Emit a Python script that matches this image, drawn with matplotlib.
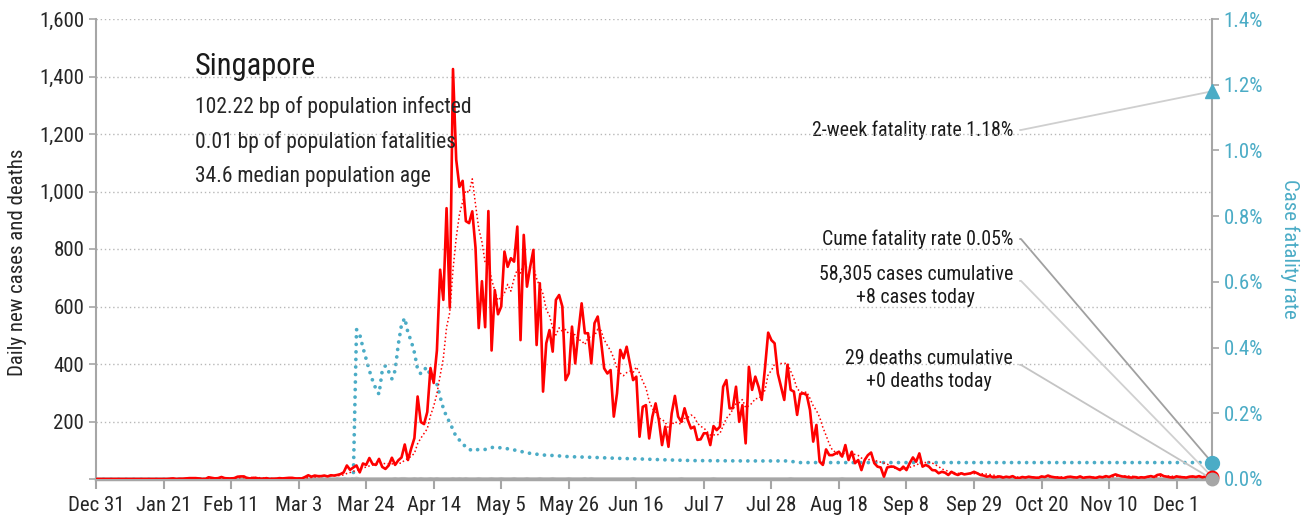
import matplotlib
matplotlib.use("Agg")

import matplotlib.pyplot as plt
import numpy as np
import pandas as pd
from matplotlib import font_manager

# daily new cases, Dec 31 2019 .. Dec 12 2020
cases = (
    [0] * 23
    + [1, 2, 0, 1, 1, 2, 3, 3, 3]
    + [2, 0, 0, 6, 4, 2, 3, 7, 3, 2, 2, 3, 8, 9, 9, 3, 2, 4, 3, 1, 1, 3, 0, 1, 1, 3, 2, 3, 4]
    + [4, 2, 2, 2, 7, 13, 8, 12, 10, 10, 12, 9, 13, 12, 14, 17, 23]
    + [47, 32, 40, 47, 23, 54, 49, 73, 52, 49, 70, 42, 35, 47, 74, 49, 65, 75, 120, 66,
       106, 142, 287, 198, 191, 233, 386, 334, 447, 728, 623, 942, 596, 1426]
    + [1111, 1016, 1037, 897, 890, 931, 805, 525, 688, 528, 932, 447, 657, 573]
    + [600, 791, 738, 768, 756, 878, 483, 849, 669, 738,
       797, 466, 681, 304, 472, 518, 443, 623, 640, 600,
       344, 367, 530, 402, 512, 611, 507, 507, 402, 542,
       565, 483, 385, 367, 379, 217, 298, 449, 420, 460,
       402, 344, 356, 147, 251, 257, 141, 217, 263, 205,
       118, 182, 112, 228, 289, 217, 199, 246, 205, 176,
       182, 136, 138, 159, 159, 118, 184, 170, 182, 321,
       344, 246, 246, 321, 199, 257, 124, 390]
    + [310, 356, 321, 275, 385, 509, 483, 472, 367, 321,
       275, 397, 310, 304, 223, 296, 298, 292, 240, 130,
       188, 60, 49, 103, 83, 83, 89, 95, 78, 118,
       66, 95, 55, 66, 31, 66, 83, 92, 55, 43, 40, 8]
    + [40, 43, 43, 37, 31, 43, 31, 55, 75, 60, 89, 43, 49, 43, 31, 30, 20, 25, 22, 14,
       25, 18, 14, 20, 16, 18, 20, 25, 20, 14, 12, 8, 10, 6]
    + [7, 9, 5, 8, 6, 10, 4, 3, 7, 5, 8, 6, 5, 4, 9, 7, 12, 8, 6, 5,
       4, 3, 7, 8, 6, 5, 9, 4, 6, 7, 5, 4, 8, 6, 10, 7, 12, 16, 12, 9,
       8, 6, 5, 7, 4, 6, 5, 8, 10, 7, 14, 16, 10, 8, 6, 5, 9, 7, 6, 5,
       8, 9, 7, 10, 6, 9, 12, 8]
)

death_dates = ["2020-03-21", "2020-04-02", "2020-04-04", "2020-04-05", "2020-04-08",
               "2020-04-10", "2020-04-13", "2020-04-15", "2020-04-20", "2020-04-22",
               "2020-04-24", "2020-04-28", "2020-05-02", "2020-05-05", "2020-05-09",
               "2020-05-13", "2020-05-17", "2020-05-21", "2020-05-26", "2020-05-31",
               "2020-06-02", "2020-06-15", "2020-06-30", "2020-07-10", "2020-08-03",
               "2020-08-19", "2020-10-14", "2020-12-02"]
death_counts = [2] + [1] * 27

# case fatality rate (%), by day offset from Dec 31
cfr_days = [0, 80, 81, 82, 83, 84, 85, 86, 87, 88, 89, 90, 91, 92, 93, 94, 95, 96, 97,
            98, 99, 100, 101, 102, 103, 104, 105, 106, 107, 108, 109, 110, 111, 112,
            114, 115, 117, 119, 121, 123, 125, 127, 129, 131, 135, 139, 143, 147, 154,
            162, 169, 178, 186, 202, 215, 219, 347]
cfr_pct = [0, 0, 0.455, 0.44, 0.40, 0.365, 0.33, 0.30, 0.275, 0.258, 0.33, 0.345, 0.327,
           0.305, 0.33, 0.41, 0.47, 0.49, 0.445, 0.42, 0.385, 0.334, 0.32, 0.333, 0.34,
           0.313, 0.303, 0.289, 0.25, 0.215, 0.19, 0.172, 0.15, 0.128,
           0.109, 0.096, 0.086, 0.09, 0.09, 0.096, 0.096, 0.093, 0.091, 0.086, 0.078,
           0.073, 0.071, 0.068, 0.066, 0.063, 0.061, 0.058, 0.056, 0.055, 0.055, 0.05, 0.05]

two_week_cfr = 1.18
cume_cfr = 0.05

tick_labels = ["Dec 31", "Jan 21", "Feb 11", "Mar 3", "Mar 24", "Apr 14", "May 5",
               "May 26", "Jun 16", "Jul 7", "Jul 28", "Aug 18", "Sep 8", "Sep 29",
               "Oct 20", "Nov 10", "Dec 1"]

RED = "#FF0000"
TEAL = "#4BACC6"
GREY = "#A6A6A6"
TXT = "#262626"

available = {f.name for f in font_manager.fontManager.ttflist}
FONT = next((n for n in ["Liberation Sans Narrow", "Roboto Condensed", "DejaVu Sans"]
             if n in available), "DejaVu Sans")
plt.rcParams["font.family"] = [FONT, "DejaVu Sans"]

start = pd.Timestamp("2019-12-31")
days = pd.date_range(start, periods=len(cases), freq="D")
s_cases = pd.Series(cases, index=days, dtype=float)
avg7 = s_cases.rolling(7, min_periods=1).mean()
s_deaths = pd.Series(0.0, index=days)
for d, c in zip(death_dates, death_counts):
    s_deaths[pd.Timestamp(d)] += c
cfr_x = start + pd.to_timedelta(cfr_days, unit="D")

fig = plt.figure(figsize=(13.1, 5.2), dpi=100)
ax = fig.add_axes([96 / 1310, 41 / 520, 1116 / 1310, 460 / 520])
ax2 = ax.twinx()
ax.set_zorder(ax2.get_zorder() + 1)
ax.patch.set_visible(False)

ax.set_xlim(days[0], days[-1])
ax.set_ylim(0, 1600)
ax2.set_ylim(0, 1.4)

ax2.plot(cfr_x, cfr_pct, color=TEAL, lw=2.7, linestyle=(0, (0.01, 2.0)),
         dash_capstyle="round", zorder=2)
ax.plot(days, s_deaths.values, color="#C0C0C0", lw=2.5, zorder=2)
ax.plot(days, avg7.values, color=RED, lw=1.1, linestyle=(0, (1, 1.6)), zorder=3)
ax.plot(days, s_cases.values, color=RED, lw=1.9, zorder=4)

# end-of-series markers
last = days[-1]
ax2.plot([last], [two_week_cfr], marker="^", ms=10, color=TEAL, clip_on=False, zorder=6)
ax2.plot([last], [cume_cfr], marker="o", ms=10, color=TEAL, clip_on=False, zorder=6)
ax.plot([last], [cases[-1]], marker="o", ms=8, mfc="white", mec=RED, mew=2,
        clip_on=False, zorder=6)
ax.plot([last], [s_deaths.values[-1]], marker="o", ms=9, color="#A6A6A6",
        clip_on=False, zorder=7)

# axes styling
ax.set_yticks(np.arange(0, 1601, 200))
ax.set_yticklabels([""] + [f"{v:,}" for v in range(200, 1601, 200)])
for v in range(200, 1601, 200):
    ax.axhline(v, color="#B8B8B8", lw=1, linestyle=(0, (1, 2)), zorder=1)
ax2.set_yticks(np.arange(0, 1.41, 0.2))
ax2.set_yticklabels([f"{v:.1f}%" for v in np.arange(0, 1.41, 0.2)])

ticks = pd.date_range(start, periods=len(tick_labels), freq="21D")
ax.set_xticks(ticks)
ax.set_xticklabels(tick_labels)

for a in (ax, ax2):
    a.spines["top"].set_visible(False)
    for side in ("left", "right", "bottom"):
        a.spines[side].set_color(GREY)
        a.spines[side].set_linewidth(1.5)
ax.spines["bottom"].set_linewidth(2.5)
ax.spines["right"].set_visible(False)
ax2.spines["left"].set_visible(False)
ax2.spines["bottom"].set_visible(False)

ax.tick_params(axis="y", colors=GREY, labelcolor=TXT, labelsize=15, length=5, width=1.2)
ax.tick_params(axis="x", colors=GREY, labelcolor=TXT, labelsize=15, length=7, width=1.5, pad=5)
ax2.tick_params(axis="y", colors=GREY, labelcolor=TEAL, labelsize=15, length=5, width=1.2)

ax.set_ylabel("Daily new cases and deaths", fontsize=15, color=TXT, va="center")
ax.yaxis.set_label_coords(-0.07, 0.47)
ax2.set_ylabel("Case fatality rate", fontsize=15, color=TEAL, rotation=270, va="center")
ax2.yaxis.set_label_coords(1.07, 0.5)

# country header
fig.text(195 / 1310, 1 - 75 / 520, "Singapore", fontsize=22, color="#1a1a1a", va="baseline")
header = ["102.22 bp of population infected",
          "0.01 bp of population fatalities",
          "34.6 median population age"]
for line, base in zip(header, [113, 148, 182]):
    fig.text(195 / 1310, 1 - base / 520, line, fontsize=15.5, color=TXT, va="baseline")

# callouts with leader lines to the end markers
callouts = [
    (f"2-week fatality rate {two_week_cfr:.2f}%", 130, ax2, two_week_cfr, "#CFCFCF", 0.5),
    (f"Cume fatality rate {cume_cfr:.2f}%", 239, ax2, cume_cfr, "#A0A0A0", 0.5),
    ("58,305 cases cumulative\n+8 cases today", 286, ax, cases[-1], "#D0D0D0", 0.62),
    ("29 deaths cumulative\n+0 deaths today", 370, ax, 0, "#C4C4C4", 0.62),
]
for text, ypx, target_ax, yval, col, rel in callouts:
    target_ax.annotate(
        text, xy=(last, yval), xycoords="data",
        xytext=(1013 / 1310, 1 - ypx / 520), textcoords="figure fraction",
        ha="right", va="center", multialignment="center", fontsize=14.3,
        color="#1a1a1a", linespacing=1.3, annotation_clip=False, zorder=5,
        arrowprops=dict(arrowstyle="-", color=col, lw=1.3, shrinkA=3, shrinkB=0,
                        relpos=(1, rel),
                        connectionstyle="arc,angleA=0,armA=8,angleB=0,armB=0,rad=0"),
    )

fig.savefig("out.png", dpi=100)
